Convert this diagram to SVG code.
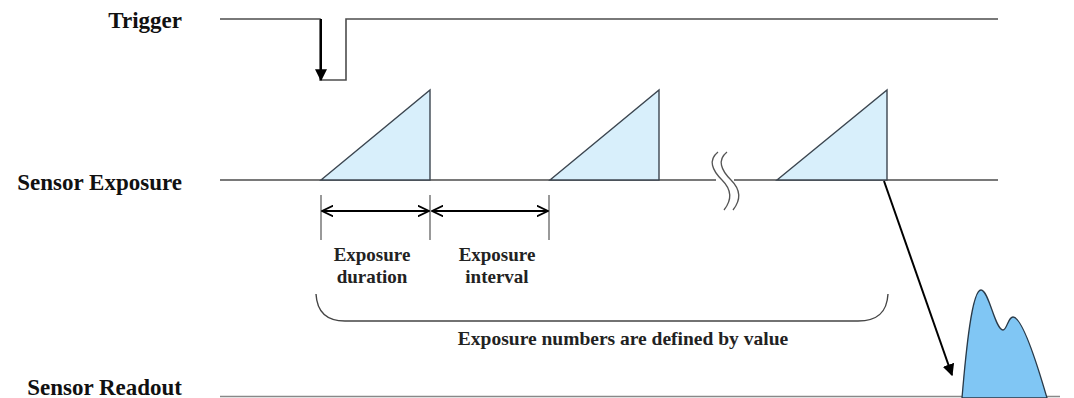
<svg xmlns="http://www.w3.org/2000/svg" width="1074" height="398" viewBox="0 0 1074 398">
<style>
.lbl{font-family:"Liberation Serif","Times New Roman",serif;font-weight:bold;font-size:23px;fill:#111;text-anchor:end}
.sm{font-family:"Liberation Serif","Times New Roman",serif;font-weight:bold;font-size:19px;fill:#222;text-anchor:middle}
.sig{fill:none;stroke:#4d4d4d;stroke-width:1.6}
.tri{fill:#d8effb;stroke:#3c4650;stroke-width:1.4;stroke-linejoin:miter}
.tick{stroke:#555;stroke-width:1.2}
.dim{stroke:#000;stroke-width:1.8;fill:none}
.arr{stroke:#000;stroke-width:2;fill:none}
</style>
<defs>
<marker id="fill" viewBox="0 0 10 10" refX="9" refY="5" markerWidth="7" markerHeight="7" markerUnits="userSpaceOnUse" orient="auto"><path d="M0,0 L10,5 L0,10 z" fill="#000"/></marker>
<marker id="bigfill" viewBox="0 0 10 10" refX="9" refY="5" markerWidth="12" markerHeight="12" markerUnits="userSpaceOnUse" orient="auto"><path d="M0,0 L10,5 L0,10 z" fill="#000"/></marker>
<marker id="open" viewBox="0 0 10 10" refX="9.5" refY="5" markerWidth="12" markerHeight="12" markerUnits="userSpaceOnUse" orient="auto-start-reverse"><path d="M0,0.5 L9.5,5 L0,9.5" fill="none" stroke="#000" stroke-width="1.6"/></marker>
</defs>
<g id="labels">
<text class="lbl" x="182" y="28">Trigger</text>
<text class="lbl" x="182" y="190">Sensor Exposure</text>
<text class="lbl" x="182" y="395">Sensor Readout</text>
</g>
<g id="trigger">
<path class="sig" d="M220,19 H320 V80 H346 V19 H998"/>
</g>
<g id="exposure">
<path class="sig" d="M220,180 H716 M734,180 H998"/>
<path d="M718,152 C708,160 712,170 722,180 C732,190 732,200 724,210" fill="none" stroke="#555" stroke-width="1.3"/>
<path d="M727,152 C717,160 721,170 731,180 C741,190 741,200 733,210" fill="none" stroke="#555" stroke-width="1.3"/>
<polygon class="tri" points="321,180 430,90 430,180"/>
<polygon class="tri" points="550,180 659,90 659,180"/>
<polygon class="tri" points="777,180 887,90 887,180"/>
</g>
<g id="readout">
<path d="M220,396.5 H1060" stroke="#888" stroke-width="1.6"/>
<path d="M962,398 C966,350 972,290 981,290 C989,290 995,330 1003,330 C1007,330 1008,317 1013,317 C1022,317 1036,360 1047,398 Z" fill="#80c6f4" stroke="#2a3a48" stroke-width="1.3"/>
</g>
<g id="dimensions">
<line class="tick" x1="321" y1="195" x2="321" y2="240"/>
<line class="tick" x1="430" y1="195" x2="430" y2="240"/>
<line class="tick" x1="549" y1="195" x2="549" y2="240"/>
<line class="dim" x1="322" y1="211" x2="429" y2="211" marker-start="url(#open)" marker-end="url(#open)"/>
<line class="dim" x1="432" y1="211" x2="548" y2="211" marker-start="url(#open)" marker-end="url(#open)"/>
<text class="sm" x="372" y="261">Exposure</text>
<text class="sm" x="372" y="283">duration</text>
<text class="sm" x="497" y="261">Exposure</text>
<text class="sm" x="497" y="283">interval</text>
</g>
<g id="brace">
<path d="M316,294 C317,312 326,321 345,321 H858 C878,321 887,312 888,294" fill="none" stroke="#444" stroke-width="1.4"/>
<text class="sm" x="623" y="345" style="font-size:19.5px">Exposure numbers are defined by value</text>
</g>
<g id="connectors">
<line class="arr" x1="321" y1="19" x2="321" y2="80" marker-end="url(#bigfill)"/>
<line class="arr" x1="884" y1="181" x2="952" y2="375" marker-end="url(#bigfill)"/>
</g>
</svg>
